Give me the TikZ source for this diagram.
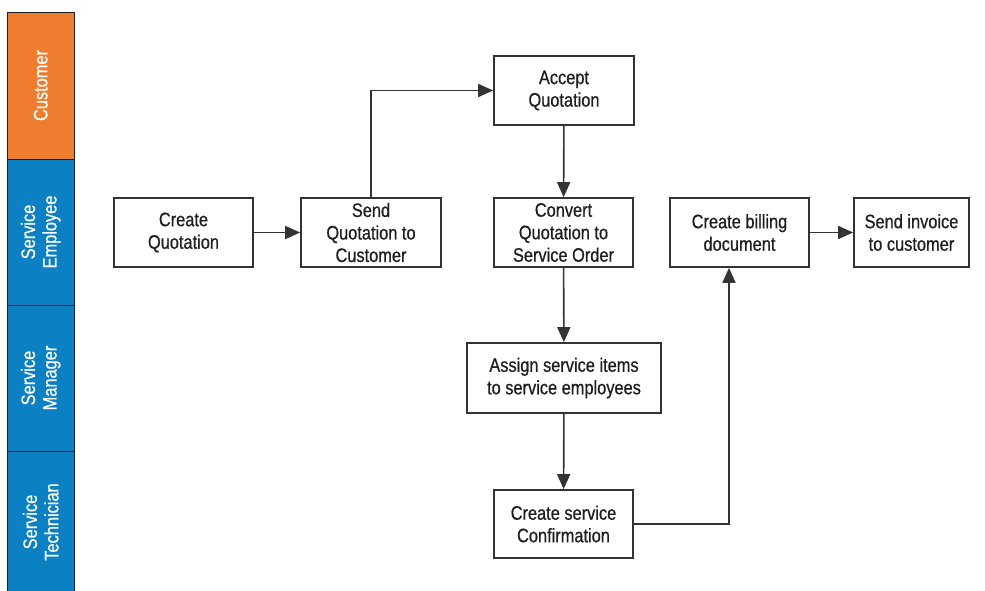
\documentclass[tikz,border=0pt]{standalone}
\usepackage{fontspec}
\setmainfont{Liberation Sans}[FakeStretch=0.84,FakeBold=0.6]
\usetikzlibrary{arrows.meta}
\definecolor{laneorange}{HTML}{EF7D30}
\definecolor{laneblue}{HTML}{0B80C2}
\definecolor{ink}{HTML}{1E1E1E}
\definecolor{boxline}{HTML}{333333}
\tikzset{
  lane/.style={draw=ink, line width=0.9pt, rotate=90, text=white, align=center,
    inner sep=0pt, font=\fontsize{19.5}{21.5}\selectfont},
  stepbox/.style={draw=boxline, line width=1.7pt, fill=white, align=center, inner sep=0pt,
    text=ink, font=\fontsize{19.5}{22.5}\selectfont},
  flow/.style={draw=boxline, line width=1.6pt, -{Triangle[length=15pt,width=13pt]}},
}
\begin{document}
\begin{tikzpicture}[x=1pt,y=-1pt]
\useasboundingbox (0,0) rectangle (985,591);
% lanes
\node[lane, fill=laneorange, minimum width=147, minimum height=66.7] (l1) at (40.7,85.5) {Customer};
\node[lane, fill=laneblue, minimum width=146, minimum height=66.7] (l2) at (40.7,232) {Service\\Employee};
\node[lane, fill=laneblue, minimum width=146, minimum height=66.7] (l3) at (40.7,378) {Service\\Manager};
\node[lane, fill=laneblue, minimum width=142, minimum height=66.7] (l4) at (40.7,522) {Service\\Technician};
% boxes
\node[stepbox, minimum width=139, minimum height=69] (cq) at (183.5,232.5) {Create\\Quotation};
\node[stepbox, minimum width=140, minimum height=69] (sq) at (371,232.5) {Send\\Quotation to\\Customer};
\node[stepbox, minimum width=140, minimum height=69] (aq) at (564,90.5) {Accept\\Quotation};
\node[stepbox, minimum width=139, minimum height=69] (cv) at (563.5,232.5) {Convert\\Quotation to\\Service Order};
\node[stepbox, minimum width=139, minimum height=69] (bd) at (739.5,232.5) {Create billing\\document};
\node[stepbox, minimum width=115, minimum height=69] (si) at (911.5,232.5) {Send invoice\\to customer};
\node[stepbox, minimum width=194, minimum height=70] (as) at (564,378) {Assign service items\\to service employees};
\node[stepbox, minimum width=139, minimum height=68] (sc) at (563.5,524) {Create service\\Confirmation};
% connectors
\coordinate (c1) at (sq.north |- aq.west);
\coordinate (c2) at (729,0 |- sc.east);
\draw[flow] (cq) -- (sq);
\draw[flow] (sq.north) -- (c1) -- (aq.west);
\draw[flow] (aq) -- (cv);
\draw[flow] (cv) -- (as);
\draw[flow] (as) -- (sc);
\draw[flow] (sc.east) -- (c2) -- (c2 |- bd.south);
\draw[flow] (bd) -- (si);
\end{tikzpicture}
\end{document}
